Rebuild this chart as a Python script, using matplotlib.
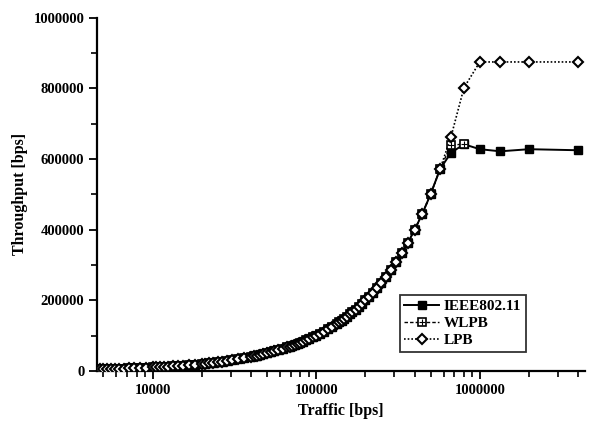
import matplotlib
matplotlib.use("Agg")
import matplotlib.pyplot as plt
from matplotlib.ticker import FixedLocator, FuncFormatter, LogLocator, MultipleLocator, NullFormatter
from matplotlib.legend_handler import HandlerTuple

# offered traffic [bps] in the region where every scheme delivers all of it
rising = [571429, 500000, 444444, 400000, 363636, 333333, 307692, 285714,
          266667, 250000, 235294, 222222, 210526, 200000, 190476, 181818,
          173913, 166667, 160000, 153846, 148148, 142857, 137931, 133333,
          125000, 117647, 111111, 105263, 100000, 95238, 90909, 86957,
          83333, 80000, 76923, 74074, 71429, 68966, 66667, 62500, 58824,
          55556, 52632, 50000, 47619, 45455, 43478, 41667, 40000, 36364,
          33333, 30769, 28571, 26667, 25000, 23529, 22222, 21053, 20000,
          18182, 16667, 15385, 14286, 13333, 12500, 11765, 11111, 10526,
          10000, 9091, 8333, 7692, 7143, 6667, 6250, 5882, 5556, 5263,
          5000, 4762]

# high-load points (traffic, throughput)
ieee_x = [666667, 800000, 1000000, 1333333, 2000000, 4000000]
ieee_y = [618000, 642000, 628000, 622000, 628000, 625000]
wlpb_x = [666667, 800000]
wlpb_y = [640000, 642000]
lpb_x = [666667, 800000, 1000000, 1333333, 2000000, 4000000]
lpb_y = [663000, 802000, 875000, 875000, 875000, 875000]

plt.rcParams['font.family'] = ['Liberation Serif', 'DejaVu Serif']
plt.rcParams['font.weight'] = 'bold'

fig = plt.figure(figsize=(5.91, 4.24), dpi=100)
ax = fig.add_axes([0.164, 0.125, 0.826, 0.833])

ieee_all_x = rising[::-1] + ieee_x
wlpb_all_x = rising[::-1] + wlpb_x
lpb_all_x = rising[::-1] + lpb_x

l1, = ax.plot(ieee_all_x, rising[::-1] + ieee_y, '-', color='black', lw=1.4,
              marker='s', ms=5.5, mfc='black', mec='black', zorder=3)
l2, = ax.plot(wlpb_all_x, rising[::-1] + wlpb_y, color='black', lw=1.0,
              ls=(0, (2.5, 1.5)), marker='s', ms=5.5, mfc='white',
              mec='black', mew=1.2, zorder=4)
l2p, = ax.plot(wlpb_all_x, rising[::-1] + wlpb_y, ls='none', marker='+',
               ms=4, mec='black', mew=0.8, zorder=4)
l3, = ax.plot(lpb_all_x, rising[::-1] + lpb_y, color='black', lw=1.2,
              ls=(0, (1, 1.2)), marker='D', ms=5.5, mfc='white',
              mec='black', mew=1.5, zorder=5)

ax.set_xscale('log')
ax.set_xlim(4570, 4.4e6)
ax.set_ylim(0, 1000000)

ax.xaxis.set_major_locator(FixedLocator([1e4, 1e5, 1e6]))
ax.xaxis.set_major_formatter(FuncFormatter(lambda v, p: '%d' % round(v)))
ax.xaxis.set_minor_locator(LogLocator(base=10, subs=range(2, 10)))
ax.xaxis.set_minor_formatter(NullFormatter())
ax.yaxis.set_major_locator(MultipleLocator(200000))
ax.yaxis.set_minor_locator(MultipleLocator(100000))
ax.yaxis.set_major_formatter(FuncFormatter(lambda v, p: '%d' % round(v)))

for s in ['top', 'right']:
    ax.spines[s].set_visible(False)
for s in ['left', 'bottom']:
    ax.spines[s].set_linewidth(1.6)

ax.tick_params(axis='both', which='major', direction='out', length=6,
               width=1.3, labelsize=10.5, pad=3)
ax.tick_params(axis='both', which='minor', direction='out', length=4,
               width=1.2)

ax.set_xlabel('Traffic [bps]', fontsize=11.5, fontweight='bold', labelpad=5)
ax.set_ylabel('Throughput [bps]', fontsize=11.5, fontweight='bold', labelpad=4)

leg = ax.legend([l1, (l2, l2p), l3], ['IEEE802.11', 'WLPB', 'LPB'],
                handler_map={tuple: HandlerTuple(ndivide=1)},
                loc='lower left', bbox_to_anchor=(0.62, 0.055),
                fontsize=11, frameon=True, fancybox=False, handlelength=2.3,
                handletextpad=0.3, borderpad=0.3, labelspacing=0.22,
                borderaxespad=0)
leg.get_frame().set_edgecolor('black')
leg.get_frame().set_linewidth(1.3)

fig.savefig('out.png', dpi=100, facecolor='w')
